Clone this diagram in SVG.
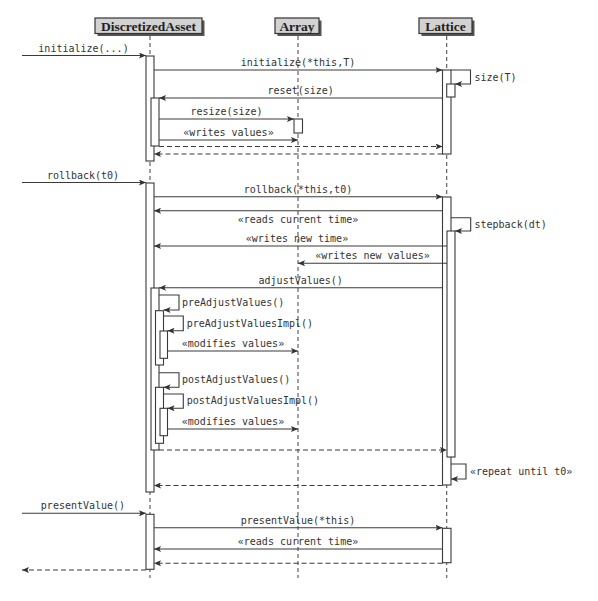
<svg xmlns="http://www.w3.org/2000/svg" width="598" height="601" viewBox="0 0 598 601">
<defs>
<style>
.life{stroke:#555;stroke-width:1.1;stroke-dasharray:4,3;fill:none}
.box{fill:#d2d2d2;stroke:#333;stroke-width:1.2}
.shadow{fill:#555}
.hdr{font-family:"Liberation Serif","Times New Roman",serif;font-weight:bold;font-size:13.5px;fill:#222;text-anchor:middle}
.act{fill:#fff;stroke:#3a3a3a;stroke-width:1.1}
.msg{stroke:#3a3a3a;stroke-width:1.1;fill:none;marker-end:url(#ah)}
.ret{stroke-dasharray:5,3}
.lbl{font-family:"DejaVu Sans Mono",monospace;font-size:10px;fill:#333}
.c{text-anchor:middle}
</style>
<marker id="ah" markerWidth="8" markerHeight="6" refX="7" refY="3" orient="auto" markerUnits="userSpaceOnUse">
<path d="M0,0 L7,3 L0,6 L1.5,3 z" fill="#333"/>
</marker>
</defs>
<rect width="598" height="601" fill="#fff"/>

<g id="DiscretizedAsset">
<line class="life" x1="150" y1="36" x2="150" y2="578"/>
<rect class="shadow" x="97.5" y="20.5" width="107" height="15.5"/>
<rect class="box" x="95" y="18" width="107" height="15.5"/>
<text class="hdr" x="148.5" y="31">DiscretizedAsset</text>
<rect class="act" x="146" y="56" width="8" height="105"/>
<rect class="act" x="151" y="98" width="8" height="48"/>
<rect class="act" x="146" y="183" width="8" height="309"/>
<rect class="act" x="151" y="288" width="8" height="162"/>
<rect class="act" x="155.5" y="310.7" width="8" height="54.3"/>
<rect class="act" x="160" y="331" width="7.5" height="27.3"/>
<rect class="act" x="155.5" y="387.3" width="8" height="56"/>
<rect class="act" x="160" y="408.3" width="7.5" height="27.4"/>
<rect class="act" x="146" y="514.3" width="8" height="55"/>
</g>

<g id="Array">
<line class="life" x1="298" y1="36" x2="298" y2="578"/>
<rect class="shadow" x="277.5" y="20.5" width="44" height="15.5"/>
<rect class="box" x="275" y="18" width="44" height="15.5"/>
<text class="hdr" x="297" y="31">Array</text>
<rect class="act" x="294" y="119" width="8.5" height="14"/>
</g>

<g id="Lattice">
<line class="life" x1="446.7" y1="36" x2="446.7" y2="578"/>
<rect class="shadow" x="421.5" y="20.5" width="53" height="15.5"/>
<rect class="box" x="419" y="18" width="53" height="15.5"/>
<text class="hdr" x="445.5" y="31">Lattice</text>
<rect class="act" x="442.5" y="70" width="8.5" height="84"/>
<rect class="act" x="446.7" y="84" width="8.3" height="13"/>
<rect class="act" x="442.5" y="197" width="8.5" height="288"/>
<rect class="act" x="447" y="231" width="8" height="226"/>
<rect class="act" x="442.5" y="528.3" width="8.5" height="34.4"/>
</g>

<g id="connectors">
<line class="msg" x1="22" y1="55.5" x2="146" y2="55.5"/>
<line class="msg" x1="154" y1="70" x2="442.5" y2="70"/>
<path class="msg" d="M451,70 H470.5 V84 H455"/>
<line class="msg" x1="442.5" y1="98" x2="159" y2="98"/>
<line class="msg" x1="159" y1="119" x2="294" y2="119"/>
<line class="msg" x1="159" y1="140" x2="298" y2="140"/>
<line class="msg ret" x1="159" y1="146.5" x2="442.5" y2="146.5"/>
<line class="msg ret" x1="442.5" y1="154" x2="154" y2="154"/>

<line class="msg" x1="22" y1="182.5" x2="146" y2="182.5"/>
<line class="msg" x1="154" y1="196.7" x2="442.5" y2="196.7"/>
<line class="msg" x1="442.5" y1="210.7" x2="154" y2="210.7"/>
<path class="msg" d="M451,217.7 H470.7 V231 H455"/>
<line class="msg" x1="447" y1="246" x2="154" y2="246"/>
<line class="msg" x1="447" y1="263.3" x2="298" y2="263.3"/>
<line class="msg" x1="442.5" y1="287.7" x2="159" y2="287.7"/>
<path class="msg" d="M159,295 H179 V310 H163.5"/>
<path class="msg" d="M163.5,316 H183.3 V330.7 H167.5"/>
<line class="msg" x1="167.5" y1="351" x2="298" y2="351"/>
<path class="msg" d="M159,372.7 H179 V387.3 H163.5"/>
<path class="msg" d="M163.5,394 H183.3 V408.3 H167.5"/>
<line class="msg" x1="167.5" y1="429" x2="298" y2="429"/>
<line class="msg ret" x1="159" y1="450" x2="447" y2="450"/>
<path class="msg" d="M451,464 H466 V479 H451"/>
<line class="msg ret" x1="442.5" y1="485.5" x2="154" y2="485.5"/>

<line class="msg" x1="22" y1="513.3" x2="146" y2="513.3"/>
<line class="msg" x1="154" y1="527.7" x2="442.5" y2="527.7"/>
<line class="msg" x1="442.5" y1="549" x2="154" y2="549"/>
<line class="msg ret" x1="442.5" y1="563.3" x2="154" y2="563.3"/>
<line class="msg ret" x1="146" y1="570" x2="22" y2="570"/>

<text class="lbl c" x="83.5" y="51.5">initialize(...)</text>
<text class="lbl c" x="298" y="66">initialize(*this,T)</text>
<text class="lbl" x="474.5" y="80.5">size(T)</text>
<text class="lbl c" x="300.7" y="94">reset(size)</text>
<text class="lbl c" x="226.5" y="115">resize(size)</text>
<text class="lbl c" x="228.5" y="136">«writes values»</text>

<text class="lbl c" x="83" y="178.5">rollback(t0)</text>
<text class="lbl c" x="298" y="192.7">rollback(*this,t0)</text>
<text class="lbl c" x="298" y="222.5">«reads current time»</text>
<text class="lbl" x="474.5" y="227.5">stepback(dt)</text>
<text class="lbl c" x="297" y="242">«writes new time»</text>
<text class="lbl c" x="372.5" y="259.3">«writes new values»</text>
<text class="lbl c" x="300.7" y="283.7">adjustValues()</text>
<text class="lbl" x="182" y="306">preAdjustValues()</text>
<text class="lbl" x="186.7" y="326.5">preAdjustValuesImpl()</text>
<text class="lbl c" x="233" y="347">«modifies values»</text>
<text class="lbl" x="182" y="383">postAdjustValues()</text>
<text class="lbl" x="186.7" y="404">postAdjustValuesImpl()</text>
<text class="lbl c" x="233" y="425">«modifies values»</text>
<text class="lbl" x="470" y="474.5">«repeat until t0»</text>

<text class="lbl c" x="83" y="509.3">presentValue()</text>
<text class="lbl c" x="298" y="523.7">presentValue(*this)</text>
<text class="lbl c" x="298" y="545">«reads current time»</text>
</g>
</svg>
